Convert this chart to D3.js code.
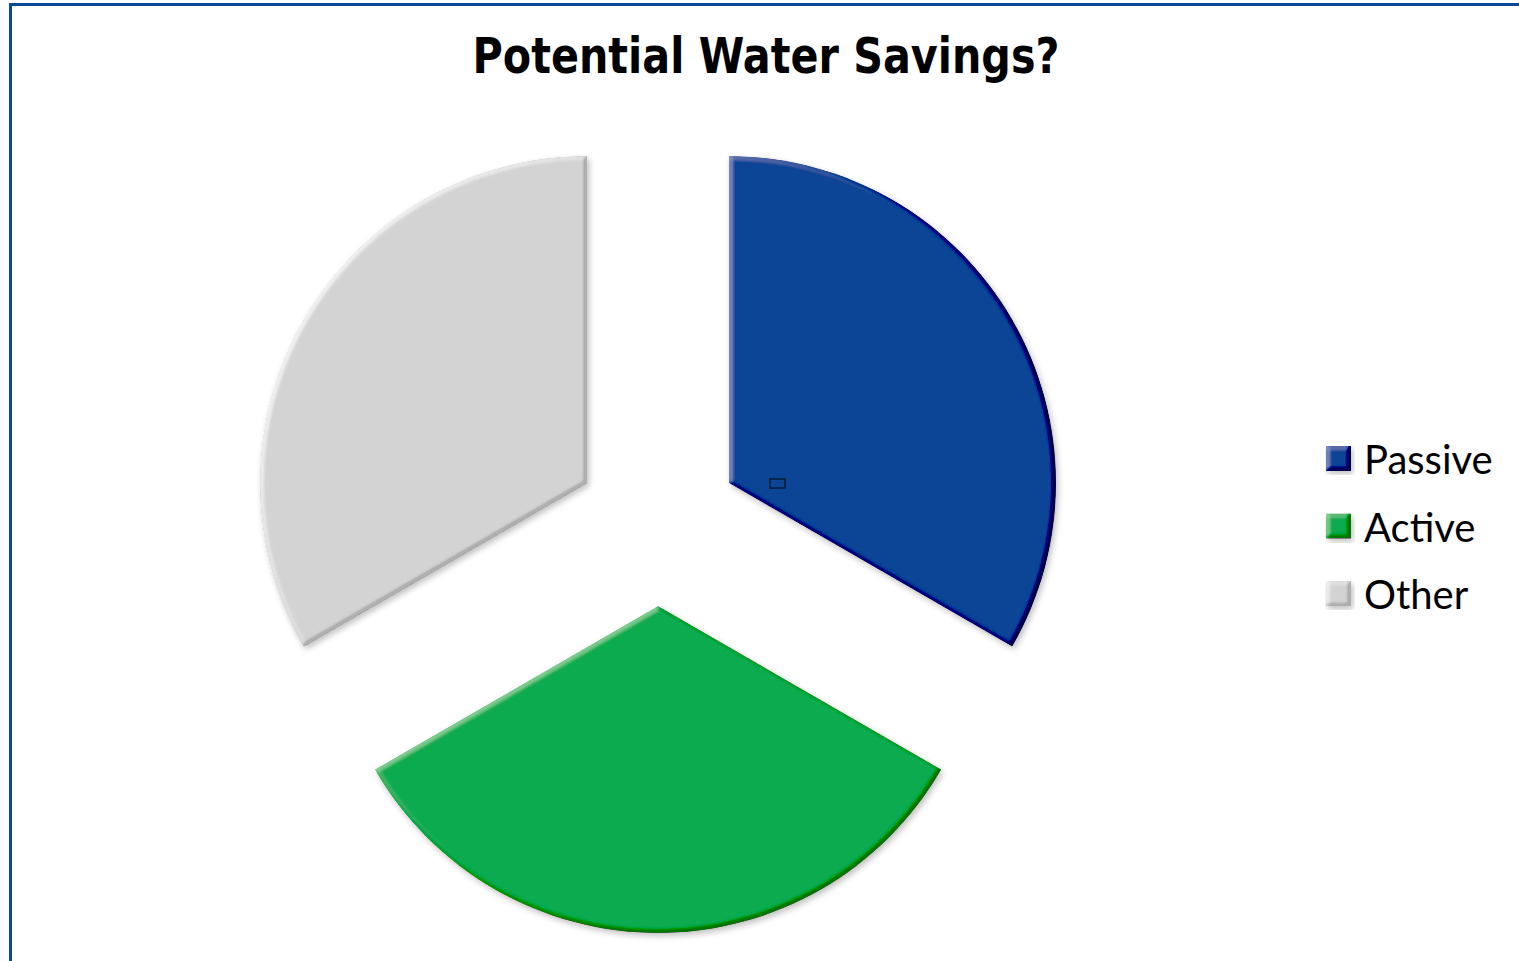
<!DOCTYPE html>
<html>
<head>
<meta charset="utf-8">
<script src="https://cdn.jsdelivr.net/npm/d3@7"></script>
<style>
  html, body { margin: 0; padding: 0; background: #fff; overflow: hidden; }
</style>
</head>
<body>
<div id="viz"></div>
<script>
const width = 1519;
const height = 961;

// data: three equal shares
const categories = ['Passive', 'Active', 'Other'];
const shares = [1, 1, 1];
const colors = ['#0a4496', '#0aab4f', '#d3d3d3'];
const title = 'Potential Water Savings?';

const center = { x: 658, y: 524 };
const radius = 327;
const explode = 82;

const svg = d3.select('#viz')
    .append('svg')
    .attr('width', width)
    .attr('height', height);

// bevel + soft shadow like the office chart style
const defs = svg.append('defs');
const f = defs.append('filter').attr('id', 'bevel')
    .attr('x', '-10%').attr('y', '-10%').attr('width', '125%').attr('height', '125%');
f.append('feGaussianBlur').attr('in', 'SourceAlpha').attr('stdDeviation', 2).attr('result', 'blur');
f.append('feDiffuseLighting').attr('in', 'blur').attr('surfaceScale', 4)
    .attr('diffuseConstant', 1).attr('lighting-color', '#fff').attr('result', 'diff')
    .append('feDistantLight').attr('azimuth', 215).attr('elevation', 30);
f.append('feComposite').attr('in', 'SourceGraphic').attr('in2', 'diff')
    .attr('operator', 'arithmetic').attr('k1', 0).attr('k2', 1).attr('k3', 0.45).attr('k4', -0.225)
    .attr('result', 'lit');
f.append('feComposite').attr('in', 'lit').attr('in2', 'SourceAlpha').attr('operator', 'in').attr('result', 'litIn');
f.append('feGaussianBlur').attr('in', 'SourceAlpha').attr('stdDeviation', 3).attr('result', 'sb');
f.append('feOffset').attr('in', 'sb').attr('dx', 2).attr('dy', 3).attr('result', 'so');
f.append('feComponentTransfer').attr('in', 'so').attr('result', 'shadow')
    .append('feFuncA').attr('type', 'linear').attr('slope', 0.25);
const merge = f.append('feMerge');
merge.append('feMergeNode').attr('in', 'shadow');
merge.append('feMergeNode').attr('in', 'litIn');

// frame (only top and left edges show)
svg.append('rect')
    .attr('x', 10.5).attr('y', 4.5)
    .attr('width', width + 20).attr('height', height + 20)
    .attr('fill', 'none')
    .attr('stroke', '#0a4a9c')
    .attr('stroke-width', 3);

// title
svg.append('text')
    .attr('x', 766)
    .attr('y', 73)
    .attr('text-anchor', 'middle')
    .attr('font-family', '"DejaVu Sans", sans-serif')
    .attr('font-weight', 'bold')
    .attr('font-size', 50)
    .attr('textLength', 587)
    .attr('lengthAdjust', 'spacingAndGlyphs')
    .text(title);

// pie
const pie = d3.pie().sort(null).value(d => d)(shares);
const arc = d3.arc().innerRadius(0).outerRadius(radius);

const g = svg.append('g').attr('transform', `translate(${center.x},${center.y})`);
g.selectAll('path')
    .data(pie)
    .join('path')
    .attr('transform', d => {
        const a = (d.startAngle + d.endAngle) / 2;
        return `translate(${Math.sin(a) * explode},${-Math.cos(a) * explode})`;
    })
    .attr('d', arc)
    .attr('fill', (d, i) => colors[i])
    .attr('filter', 'url(#bevel)');

// stray little box sitting on the passive slice
g.append('rect')
    .attr('x', 112).attr('y', -45)
    .attr('width', 15).attr('height', 9)
    .attr('fill', 'none')
    .attr('stroke', '#0a1a33')
    .attr('stroke-width', 1.5);

// legend
const legend = svg.append('g').attr('transform', 'translate(1326,446)');
const item = legend.selectAll('g')
    .data(categories)
    .join('g')
    .attr('transform', (d, i) => `translate(0,${i * 67.5})`);
item.append('rect')
    .attr('width', 25).attr('height', 25)
    .attr('fill', (d, i) => colors[i])
    .attr('filter', 'url(#bevel)');
item.append('text')
    .attr('x', 38)
    .attr('y', 28)
    .attr('font-family', 'Lato, "Open Sans", sans-serif')
    .attr('font-size', 40)
    .attr('fill', '#000')
    .text(d => d);
</script>
</body>
</html>
